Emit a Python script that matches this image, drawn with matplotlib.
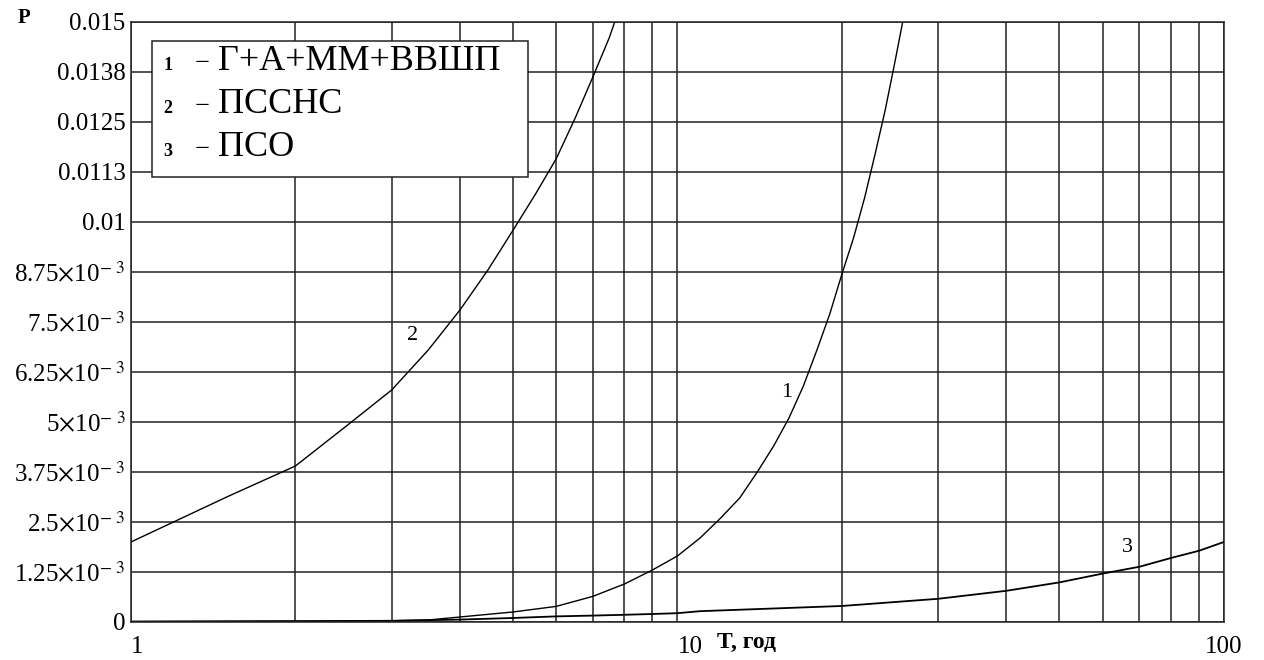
import numpy as np
import matplotlib.pyplot as plt
from matplotlib.patches import Rectangle

plt.rcParams['font.family'] = ['Liberation Serif', 'DejaVu Serif']
plt.rcParams['mathtext.fontset'] = 'stix'

# curve 1: Г+А+ММ+ВВШП
t1 = [1, 2, 3, 3.5, 4, 5, 6, 7, 8, 9, 10, 11, 12, 13, 14, 15, 16, 17, 18,
      19, 20, 21, 22, 23, 24, 25, 26]
p1 = [0.00001, 0.00002, 0.00003, 0.00005, 0.000125, 0.00025, 0.00039,
      0.00064, 0.00095, 0.0013, 0.00165, 0.0021, 0.0026, 0.0031, 0.00375,
      0.0044, 0.0051, 0.0059, 0.0068, 0.0077, 0.0087, 0.0096, 0.0106,
      0.0117, 0.0128, 0.014, 0.0152]

# curve 2: ПССНС
t2 = [1, 1.5, 2, 2.5, 3, 3.5, 4, 4.5, 5, 5.5, 6, 6.5, 7, 7.5, 8]
p2 = [0.002, 0.00313, 0.0039, 0.00494, 0.0058, 0.0068, 0.0078, 0.0088,
      0.00979, 0.0107, 0.01158, 0.0126, 0.01362, 0.0146, 0.0157]

# curve 3: ПСО
t3 = [1, 2, 3, 4, 5, 6, 7, 8, 9, 10, 11, 20, 30, 40, 50, 60, 70, 80, 90, 100]
p3 = [0.00001, 0.00002, 0.00003, 0.00006, 0.0001, 0.00014, 0.00016,
      0.00018, 0.0002, 0.00022, 0.00027, 0.0004, 0.00058, 0.00078, 0.00099,
      0.00121, 0.00138, 0.0016, 0.00178, 0.002]

yticks = [0, 0.00125, 0.0025, 0.00375, 0.005, 0.00625, 0.0075, 0.00875,
          0.01, 0.01125, 0.0125, 0.01375, 0.015]
ylabels = ['0', r'1.25$\times$10$^{-\ 3}$', r'2.5$\times$10$^{-\ 3}$',
           r'3.75$\times$10$^{-\ 3}$', r'5$\times$10$^{-\ 3}$',
           r'6.25$\times$10$^{-\ 3}$', r'7.5$\times$10$^{-\ 3}$',
           r'8.75$\times$10$^{-\ 3}$', '0.01', '0.0113', '0.0125', '0.0138',
           '0.015']
xticks = [1, 10, 100]
xlabels = ['1', '10', '100']

legend_rows = [('1', 'Г+А+ММ+ВВШП'), ('2', 'ПССНС'), ('3', 'ПСО')]

fig = plt.figure(figsize=(12.64, 6.6), dpi=100)
ax = fig.add_axes([0.1036, 0.0576, 0.8647, 0.9091])

ax.plot(t1, p1, color='black', lw=1.0)
ax.plot(t2, p2, color='black', lw=1.0)
ax.plot(t3, p3, color='black', lw=1.3)

ax.set_xscale('log')
ax.set_xlim(1, 100)
ax.set_ylim(0, 0.015)
ax.set_yticks(yticks)
ax.set_yticklabels(ylabels)
ax.set_xticks(xticks)
ax.set_xticklabels(xlabels)
ax.minorticks_on()
ax.tick_params(which='both', length=0, labelsize=18)
ax.tick_params(axis='x', pad=10)
ax.tick_params(axis='y', pad=4)
for lab, ha in zip(ax.get_xticklabels(), ['left', 'left', 'center']):
    lab.set_ha(ha)
ax.xaxis.set_minor_formatter(plt.NullFormatter())
ax.yaxis.set_minor_locator(plt.NullLocator())
ax.grid(which='both', axis='x', color='#222222', lw=1.1)
ax.grid(which='major', axis='y', color='#222222', lw=1.1)
for s in ax.spines.values():
    s.set_color('#222222')
    s.set_linewidth(1.1)

# curve numbers
ax.text(3.28, 0.00715, '2', fontsize=16, ha='center', va='center')
ax.text(15.85, 0.00573, '1', fontsize=16, ha='center', va='center')
ax.text(66.7, 0.00185, '3', fontsize=16, ha='center', va='center')

# legend box
ax.add_patch(Rectangle((0.0192, 0.7417), 0.3440, 0.227, transform=ax.transAxes,
                       facecolor='white', edgecolor='#222222', lw=1.1, zorder=5))
for i, (num, name) in enumerate(legend_rows):
    y = 0.920 - i * 0.0715
    ax.text(0.030, y, num, transform=ax.transAxes, fontsize=13,
            fontweight='bold', va='baseline', zorder=6)
    ax.text(0.058, y, '−', transform=ax.transAxes, fontsize=19,
            va='baseline', zorder=6)
    ax.text(0.080, y, name, transform=ax.transAxes, fontsize=26,
            va='baseline', zorder=6)

fig.text(0.014, 0.972, 'P', fontsize=15, fontweight='bold', va='center')
fig.text(0.567, 0.026, 'T, год', fontsize=17, fontweight='bold', va='center')

fig.savefig('out.png', dpi=100)
